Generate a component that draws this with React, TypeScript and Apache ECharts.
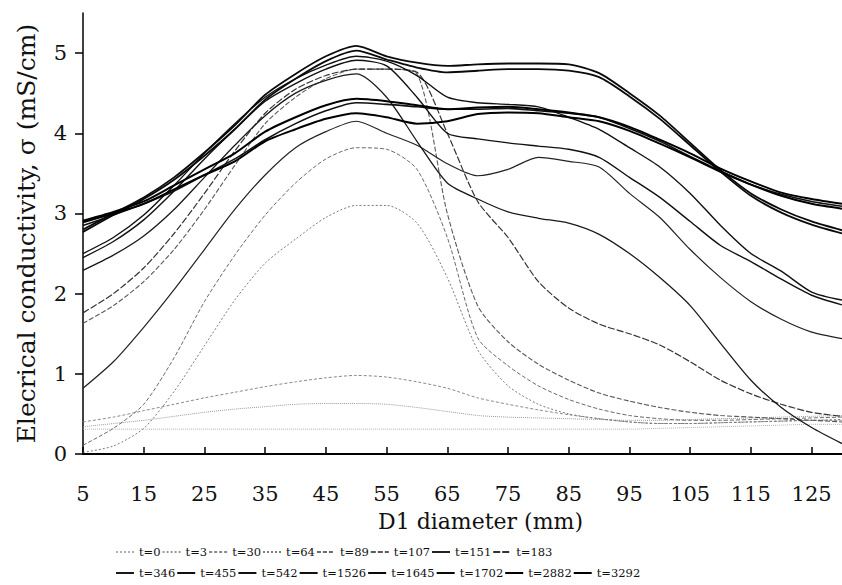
import React, { useEffect, useRef } from "react";
import * as echarts from "echarts";

// D1 diameter positions (mm)
const diameters = [5, 10, 15, 20, 25, 30, 35, 40, 45, 50, 55, 60, 65, 70, 75, 80, 85, 90, 95, 100, 105, 110, 115, 120, 125, 130];

const xTickValues = [5, 15, 25, 35, 45, 55, 65, 75, 85, 95, 105, 115, 125];
const yTickValues = [0, 1, 2, 3, 4, 5];

const seriesNames = ["t=0", "t=3", "t=30", "t=64", "t=89", "t=107", "t=151", "t=183", "t=346", "t=455", "t=542", "t=1526", "t=1645", "t=1702", "t=2882", "t=3292"];

// Electrical conductivity (mS/cm)
const t0 = [0.31, 0.31, 0.31, 0.31, 0.31, 0.31, 0.31, 0.31, 0.31, 0.31, 0.31, 0.31, 0.31, 0.31, 0.31, 0.31, 0.31, 0.31, 0.31, 0.32, 0.33, 0.34, 0.35, 0.36, 0.37, 0.37];
const t3 = [0.34, 0.38, 0.42, 0.47, 0.52, 0.56, 0.59, 0.62, 0.63, 0.63, 0.62, 0.58, 0.53, 0.48, 0.46, 0.45, 0.44, 0.43, 0.42, 0.42, 0.43, 0.44, 0.45, 0.46, 0.47, 0.48];
const t30 = [0.40, 0.46, 0.54, 0.62, 0.70, 0.77, 0.84, 0.90, 0.95, 0.98, 0.96, 0.90, 0.82, 0.70, 0.62, 0.55, 0.49, 0.44, 0.40, 0.38, 0.38, 0.39, 0.40, 0.41, 0.42, 0.42];
const t64 = [0.02, 0.10, 0.32, 0.78, 1.35, 1.92, 2.38, 2.68, 2.95, 3.10, 3.10, 2.88, 2.20, 1.30, 0.85, 0.62, 0.50, 0.44, 0.40, 0.38, 0.38, 0.39, 0.40, 0.41, 0.42, 0.43];
const t89 = [0.11, 0.32, 0.62, 1.20, 1.90, 2.48, 2.98, 3.38, 3.68, 3.82, 3.80, 3.55, 2.70, 1.45, 1.10, 0.85, 0.68, 0.56, 0.48, 0.44, 0.42, 0.42, 0.43, 0.44, 0.45, 0.46];
const t107 = [1.63, 1.85, 2.15, 2.55, 3.05, 3.60, 4.12, 4.45, 4.68, 4.80, 4.80, 4.74, 3.00, 1.85, 1.40, 1.12, 0.92, 0.76, 0.66, 0.58, 0.52, 0.48, 0.46, 0.44, 0.42, 0.40];
const t151 = [0.82, 1.15, 1.58, 2.05, 2.55, 3.05, 3.48, 3.82, 4.02, 4.15, 4.00, 3.85, 3.62, 3.47, 3.55, 3.70, 3.65, 3.58, 3.25, 2.95, 2.55, 2.20, 1.90, 1.68, 1.52, 1.44];
const t183 = [1.76, 2.00, 2.32, 2.75, 3.25, 3.78, 4.25, 4.55, 4.72, 4.80, 4.80, 4.76, 4.00, 3.15, 2.70, 2.15, 1.82, 1.62, 1.50, 1.36, 1.15, 0.92, 0.75, 0.62, 0.52, 0.47];
const t346 = [2.29, 2.48, 2.72, 3.05, 3.45, 3.85, 4.22, 4.50, 4.66, 4.74, 4.45, 3.90, 3.38, 3.18, 3.02, 2.94, 2.88, 2.74, 2.50, 2.20, 1.85, 1.38, 0.92, 0.58, 0.33, 0.13];
const t455 = [2.45, 2.65, 2.92, 3.28, 3.68, 4.05, 4.40, 4.62, 4.80, 4.91, 4.84, 4.45, 4.00, 3.93, 3.88, 3.84, 3.80, 3.70, 3.45, 3.20, 2.90, 2.60, 2.40, 2.18, 1.98, 1.86];
const t542 = [2.50, 2.70, 2.98, 3.35, 3.75, 4.12, 4.45, 4.68, 4.85, 4.96, 4.90, 4.72, 4.45, 4.38, 4.36, 4.33, 4.20, 4.05, 3.82, 3.58, 3.25, 2.85, 2.50, 2.28, 2.02, 1.92];
const t1526 = [2.85, 2.98, 3.12, 3.28, 3.48, 3.68, 3.92, 4.12, 4.28, 4.38, 4.36, 4.33, 4.30, 4.30, 4.31, 4.28, 4.25, 4.20, 4.06, 3.90, 3.71, 3.53, 3.36, 3.24, 3.15, 3.09];
const t1645 = [2.77, 2.98, 3.18, 3.42, 3.72, 4.05, 4.42, 4.68, 4.90, 5.03, 4.92, 4.82, 4.76, 4.78, 4.80, 4.80, 4.78, 4.70, 4.46, 4.18, 3.85, 3.52, 3.22, 3.01, 2.86, 2.75];
const t1702 = [2.80, 3.00, 3.20, 3.45, 3.76, 4.10, 4.48, 4.74, 4.96, 5.09, 4.96, 4.88, 4.84, 4.86, 4.87, 4.87, 4.86, 4.75, 4.50, 4.22, 3.88, 3.54, 3.25, 3.05, 2.90, 2.79];
const t2882 = [2.89, 3.00, 3.12, 3.30, 3.48, 3.65, 3.90, 4.05, 4.18, 4.25, 4.20, 4.12, 4.15, 4.24, 4.26, 4.25, 4.20, 4.15, 4.03, 3.87, 3.70, 3.52, 3.36, 3.22, 3.12, 3.06];
const t3292 = [2.91, 3.02, 3.15, 3.35, 3.55, 3.75, 4.02, 4.20, 4.35, 4.43, 4.40, 4.35, 4.30, 4.32, 4.33, 4.30, 4.26, 4.20, 4.08, 3.92, 3.75, 3.56, 3.40, 3.26, 3.18, 3.12];

const seriesValues = [t0, t3, t30, t64, t89, t107, t151, t183, t346, t455, t542, t1526, t1645, t1702, t2882, t3292];

// line appearance for each series (same order)
const lineColors = ["#b0b0b0", "#9a9a9a", "#8a8a8a", "#7a7a7a", "#6a6a6a", "#5a5a5a", "#222222", "#333333", "#1a1a1a", "#111111", "#111111", "#111111", "#0a0a0a", "#0a0a0a", "#000000", "#000000"];
const lineWidths = [1, 1, 1, 1, 1, 1.1, 1.2, 1.2, 1.3, 1.4, 1.4, 1.6, 1.8, 1.8, 2, 2];
const lineTypes: any[] = ["dotted", "dotted", [3, 2], [2, 2], [4, 2], [5, 2], "solid", [7, 2], "solid", "solid", "solid", "solid", "solid", "solid", "solid", "solid"];

const FONT = "DejaVu Serif";

export default function App() {
  const ref = useRef<HTMLDivElement>(null);

  useEffect(() => {
    if (!ref.current) return;
    const chart = echarts.init(ref.current, null, { renderer: "svg" });

    const series = seriesNames.map((name, i) => ({
      name,
      type: "line",
      data: diameters.map((d, k) => [d, seriesValues[i][k]]),
      showSymbol: false,
      symbol: "none",
      smooth: 0.25,
      z: 2 + i,
      lineStyle: { color: lineColors[i], width: lineWidths[i], type: lineTypes[i] },
      itemStyle: { color: lineColors[i] },
      emphasis: { disabled: true },
    }));

    const legendCommon = {
      left: 110,
      orient: "horizontal",
      itemWidth: 18,
      itemHeight: 10,
      itemGap: 1,
      itemStyle: { opacity: 0 },
      textStyle: { fontFamily: FONT, fontSize: 11.5, color: "#111", width: 36 },
      selectedMode: false,
    };

    chart.setOption({
      animation: false,
      backgroundColor: "#ffffff",
      grid: { left: 83, right: 0, top: 13, bottom: 131, containLabel: false },
      legend: [
        { ...legendCommon, top: 541, data: seriesNames.slice(0, 8) },
        { ...legendCommon, top: 562, data: seriesNames.slice(8) },
      ],
      xAxis: {
        type: "value",
        min: 5,
        max: 130,
        name: "D1 diameter (mm)",
        nameLocation: "middle",
        nameGap: 56,
        nameTextStyle: { fontFamily: FONT, fontSize: 22, color: "#111", padding: [0, 0, 0, 36] },
        axisLine: { show: true, onZero: false, lineStyle: { color: "#000", width: 2 } },
        axisTick: { show: true, inside: true, length: 7, customValues: xTickValues, lineStyle: { color: "#000", width: 1.5 } },
        axisLabel: { customValues: xTickValues, margin: 29, fontFamily: FONT, fontSize: 21, color: "#111" },
        splitLine: { show: false },
      },
      yAxis: {
        type: "value",
        min: 0,
        max: 5.5,
        name: "Elecrical conductivity, σ (mS/cm)",
        nameLocation: "middle",
        nameGap: 44,
        nameTextStyle: { fontFamily: FONT, fontSize: 25, color: "#111" },
        axisLine: { show: true, lineStyle: { color: "#000", width: 1.5 } },
        axisTick: { show: true, inside: false, length: 8, customValues: yTickValues, lineStyle: { color: "#000", width: 1.5 } },
        axisLabel: { customValues: yTickValues, margin: 16, fontFamily: FONT, fontSize: 21, color: "#111" },
        splitLine: { show: false },
      },
      series,
    });

    return () => chart.dispose();
  }, []);

  return (
    <div
      ref={ref}
      style={{ position: "absolute", left: 0, top: 0, width: 842, height: 585, background: "#fff" }}
    />
  );
}
